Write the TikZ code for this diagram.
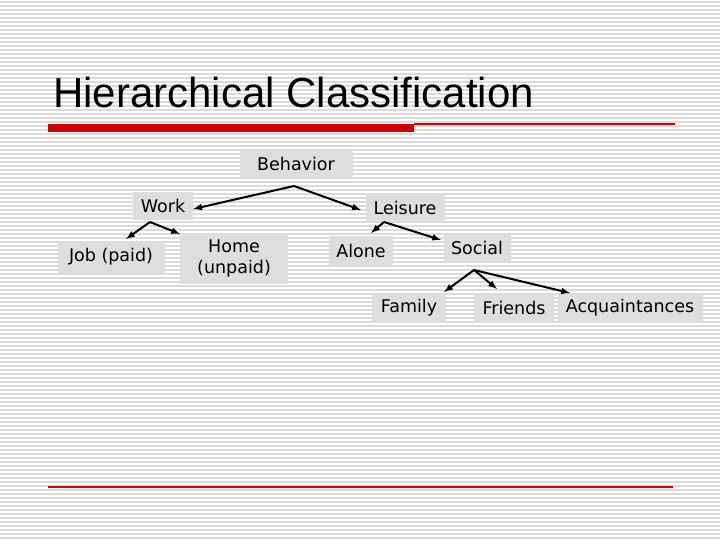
\documentclass[tikz,border=0pt]{standalone}
\usepackage{fontspec}
\setmainfont{DejaVu Sans}
\newfontfamily\titlefont{Liberation Sans}
\begin{document}
\begin{tikzpicture}[x=1pt,y=-1pt,
 box/.style={fill=black!13,inner sep=0pt,align=center,font=\fontsize{17.5}{21}\selectfont},
 arr/.style={-latex,line width=2pt}]
\useasboundingbox (0,0) rectangle (720,540);
\fill[white] (0,0) rectangle (720,540);
\foreach \y in {2,6,...,538} \draw[black!14,line width=1.6pt] (0,\y) -- (720,\y);
\node[anchor=base west,inner sep=0pt,font=\titlefont\fontsize{42}{46}\selectfont] (title) at (53,108) {Hierarchical Classification};
\fill[red!80!black] (48,124) rectangle (414,132);
\draw[red!85!black,line width=1.2pt] (414,124) -- (675,124);
\draw[red!85!black,line width=1.2pt] (48,487) -- (673,487);
\node[box,minimum width=113,minimum height=28] (beh) at (296,164) {Behavior};
\node[box,minimum width=60,minimum height=28] (work) at (163,206) {Work};
\node[box,minimum width=79,minimum height=29] (lei) at (405,208) {Leisure};
\node[box,minimum width=107,minimum height=31] (job) at (111,257) {Job (paid)};
\node[box,minimum width=108,minimum height=51] (home) at (234,258) {Home\\(unpaid)};
\node[box,minimum width=64,minimum height=30] (alone) at (361,251) {Alone};
\node[box,minimum width=67,minimum height=28] (soc) at (477,248) {Social};
\node[box,minimum width=74,minimum height=29] (fam) at (409,308) {Family};
\node[box,minimum width=80,minimum height=29] (fri) at (514,308) {Friends};
\node[box,minimum width=145,minimum height=29] (acq) at (630,308) {Acquaintances};
\coordinate (b0) at (294,186);
\coordinate (w0) at (150,222);
\coordinate (l0) at (384,222);
\coordinate (s0) at (474,270);
\draw[arr] (b0) -- (work.east |- 0,209);
\draw[arr] (b0) -- (361,210);
\draw[arr] (w0) -- (126,239);
\draw[arr] (w0) -- (180,234);
\draw[arr] (l0) -- (371,233);
\draw[arr] (l0) -- (441,240);
\draw[arr] (s0) -- (444,292);
\draw[arr] (s0) -- (497,289);
\draw[arr] (s0) -- (570,293);
\end{tikzpicture}
\end{document}
